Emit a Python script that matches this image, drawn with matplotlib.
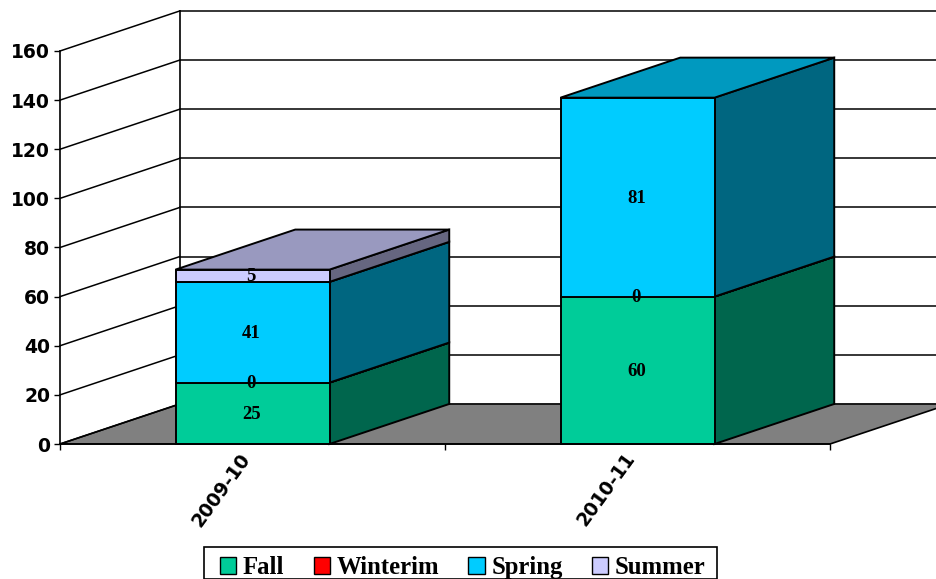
import matplotlib
matplotlib.use('Agg')
import matplotlib.pyplot as plt
from matplotlib.patches import Polygon, Patch, Rectangle
from matplotlib.transforms import ScaledTranslation

# data
years = ['2009-10', '2010-11']
fall = [25, 60]
winterim = [0, 0]
spring = [41, 81]
summer = [5, 0]

series = [
    ('Fall', fall, '#00CC99', '#00664D', '#009973'),
    ('Winterim', winterim, '#FF0000', '#800000', '#BF0000'),
    ('Spring', spring, '#00CCFF', '#006680', '#0099BF'),
    ('Summer', summer, '#CCCCFF', '#666680', '#9999BF'),
]
y_ticks = [0, 20, 40, 60, 80, 100, 120, 140, 160]

# size of the fake 3d depth, in data units
DX = 0.311
DY = 16.3
BAR_W = 0.40

W, H = 936, 579
fig = plt.figure(figsize=(W / 100, H / 100), dpi=100)
ax = fig.add_axes([60 / W, 1 - 444 / H, 770 / W, 393 / H])
ax.set_xlim(0, 2)
ax.set_ylim(0, 160)
ax.set_facecolor('none')


def poly(points, color, lw=1.4, z=2):
    ax.add_patch(Polygon(points, closed=True, facecolor=color, edgecolor='black',
                         linewidth=lw, clip_on=False, zorder=z, joinstyle='miter'))


# floor
poly([(0, 0), (DX, DY), (2 + DX, DY), (2, 0)], '#808080', lw=1.2, z=1)

# walls and grid lines
for v in y_ticks:
    ax.plot([0, DX], [v, v + DY], color='black', lw=1.1, clip_on=False, zorder=1)
    if v > 0:
        ax.plot([DX, 2 + DX], [v + DY, v + DY], color='black', lw=1.1, clip_on=False, zorder=1)
ax.plot([DX, DX], [DY, 160 + DY], color='black', lw=1.2, clip_on=False, zorder=1)

# stacked bars
for i in range(len(years)):
    x0 = i + 0.5 - BAR_W / 2
    x1 = i + 0.5 + BAR_W / 2
    base = 0
    for name, values, front, side, top in series:
        v = values[i]
        if v == 0 and name == 'Summer':
            continue
        y0, y1 = base, base + v
        poly([(x1, y0), (x1 + DX, y0 + DY), (x1 + DX, y1 + DY), (x1, y1)], side, z=3)
        poly([(x0, y1), (x0 + DX, y1 + DY), (x1 + DX, y1 + DY), (x1, y1)], top, z=3)
        poly([(x0, y0), (x1, y0), (x1, y1), (x0, y1)], front, z=3)
        base = y1

# value labels go on top of everything
for i in range(len(years)):
    base = 0
    for name, values, front, side, top in series:
        v = values[i]
        if v == 0 and name == 'Summer':
            continue
        ax.text(i + 0.497, base + v / 2 - 0.5, str(v), ha='center', va='center', zorder=5,
                family='Liberation Serif', fontweight='bold', fontsize=13.5, color='black')
        base += v

# axes
for s in ['top', 'right']:
    ax.spines[s].set_visible(False)
for s in ['left', 'bottom']:
    ax.spines[s].set_linewidth(1.2)
    ax.spines[s].set_zorder(4)
ax.set_yticks(y_ticks)
ax.set_yticklabels(y_ticks, family='DejaVu Sans', fontweight='bold', fontsize=13.5)
ax.tick_params(axis='y', length=4, width=1, pad=3)
ax.set_xticks([0, 1, 2])
ax.set_xticklabels([])
ax.tick_params(axis='x', which='major', length=4, width=1)
ax.set_xticks([0.5, 1.5], minor=True)
ax.set_xticklabels(years, minor=True, rotation=54, ha='right', rotation_mode='anchor',
                   family='DejaVu Sans', fontweight='bold', fontsize=13.5)
ax.tick_params(axis='x', which='minor', length=0, pad=4)
shift = ScaledTranslation(-0.14, 0, fig.dpi_scale_trans)
for lab in ax.get_xticklabels(minor=True):
    lab.set_transform(lab.get_transform() + shift)

# legend box runs off the bottom edge like in the original, so the frame is drawn by hand
fig.add_artist(Rectangle((203.5 / W, 0), 513 / W, 32 / H, transform=fig.transFigure,
                         facecolor='white', edgecolor='black', linewidth=1.2, clip_on=False))
handles = [Patch(facecolor=c[2], edgecolor='black', linewidth=1, label=c[0]) for c in series]
fig.legend(handles=handles, ncol=4, loc='upper left', bbox_to_anchor=(220 / W, 1 - 556 / H),
           prop={'family': 'Liberation Serif', 'weight': 'bold', 'size': 17.8},
           frameon=False, handlelength=0.65, handleheight=0.65, handletextpad=0.28,
           columnspacing=1.18, borderpad=0, borderaxespad=0)

fig.savefig('out.png', dpi=100)
